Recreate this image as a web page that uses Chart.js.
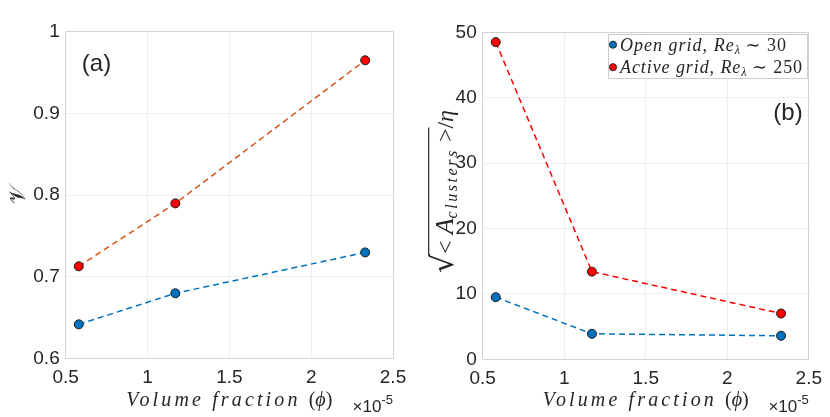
<!DOCTYPE html>
<html>
<head>
<meta charset="utf-8">
<script src="https://cdn.jsdelivr.net/npm/chart.js@4.4.1/dist/chart.umd.min.js"></script>
<style>
html, body { margin: 0; padding: 0; background: #fff; }
#wrap { display: flex; width: 830px; height: 417px; }
.panel { position: relative; width: 415px; height: 417px; }
</style>
</head>
<body>
<div id="wrap">
  <div class="panel"><canvas id="chartA"></canvas></div>
  <div class="panel"><canvas id="chartB"></canvas></div>
</div>
<script>
const phi = [0.58, 1.17, 2.33];
const nuOpen = [0.642, 0.680, 0.730];
const nuActive = [0.713, 0.790, 0.965];
const sizeOpen = [9.5, 3.9, 3.6];
const sizeActive = [48.5, 13.4, 7.0];

const phiTicks = [0.5, 1, 1.5, 2, 2.5];
const nuTicks = [0.6, 0.7, 0.8, 0.9, 1];
const sizeTicks = [0, 10, 20, 30, 40, 50];

const seriesNames = ['Open grid, Reλ ∼ 30', 'Active grid, Reλ ∼ 250'];

const BLUE = '#0072BD', ORANGE = '#D95319', RED = '#FF0000';
const EDGE = '#d2d2d2', GRID = '#efefef', INK = '#262626';
const SANS = "'Liberation Sans', Arial, sans-serif";
const SERIF = "'Liberation Serif', 'DejaVu Serif', serif";

Chart.defaults.font.family = SANS;
Chart.defaults.color = INK;

function points(ys) {
    return phi.map((x, i) => ({ x: x, y: ys[i] }));
}

function dataset(label, ys, line, fill) {
    return {
        label: label,
        data: points(ys),
        borderColor: line,
        borderWidth: 1.5,
        borderDash: [6, 4],
        pointRadius: 4.5,
        pointBackgroundColor: fill,
        pointBorderColor: '#1a1a1a',
        pointBorderWidth: 1,
        tension: 0,
        fill: false
    };
}

function scale(vals, fitSize, isX) {
    return {
        type: 'linear',
        min: vals[0],
        max: vals[vals.length - 1],
        afterBuildTicks: s => { s.ticks = vals.map(v => ({ value: v })); },
        afterFit: s => { if (isX) s.height = fitSize; else s.width = fitSize; },
        ticks: {
            padding: isX ? 8 : 6,
            color: INK,
            font: { size: 19 },
            maxRotation: 0,
            autoSkip: false,
            callback: v => String(+v.toFixed(2))
        },
        grid: {
            drawTicks: false,
            lineWidth: 1,
            color: c => (c.index === 0 || c.index === vals.length - 1) ? EDGE : GRID
        },
        border: { display: false }
    };
}

// draws a row of text pieces; stretch pieces share extra letter spacing to hit a width
function drawRich(ctx, parts, x, y, align, target) {
    let w = 0, n = 0;
    parts.forEach(p => {
        ctx.font = p.font;
        ctx.letterSpacing = '0px';
        p.w = ctx.measureText(p.t).width;
        w += p.w;
        if (p.stretch) n += [...p.t].length;
    });
    let ls = (target && n) ? (target - w) / n : 0;
    parts.forEach(p => { if (p.stretch) p.w += ls * [...p.t].length; });
    let total = parts.reduce((a, p) => a + p.w, 0);
    let cx = align === 'center' ? x - total / 2 : align === 'right' ? x - total : x;
    ctx.textAlign = 'left';
    ctx.textBaseline = 'alphabetic';
    parts.forEach(p => {
        ctx.font = p.font;
        ctx.letterSpacing = p.stretch ? ls + 'px' : '0px';
        ctx.fillText(p.t, cx, y + (p.dy || 0));
        p.x = cx;
        cx += p.w;
    });
    ctx.letterSpacing = '0px';
    return parts;
}

function drawCommon(chart, label, lx, ly) {
    const ctx = chart.ctx, a = chart.chartArea;
    ctx.save();
    ctx.fillStyle = INK;
    // x title
    drawRich(ctx, [
        { t: 'Volume fraction ', font: 'italic 20px ' + SERIF, stretch: true },
        { t: '(', font: '20px ' + SERIF },
        { t: 'ϕ', font: 'italic 20px ' + SERIF },
        { t: ')', font: '20px ' + SERIF }
    ], (a.left + a.right) / 2, 406, 'center', 206);
    // exponent
    drawRich(ctx, [
        { t: '×10', font: '17px ' + SANS },
        { t: '-5', font: '13px ' + SANS, dy: -8 }
    ], a.right, 412, 'right');
    // panel label
    ctx.font = '24px ' + SANS;
    ctx.textAlign = 'center';
    ctx.textBaseline = 'middle';
    ctx.fillText(label, lx, ly);
    ctx.restore();
}

const extrasA = {
    id: 'extrasA',
    afterDraw(chart) {
        const ctx = chart.ctx;
        drawCommon(chart, '(a)', 96.5, 64.5);
        ctx.save();
        ctx.fillStyle = INK;
        ctx.translate(19, 195);
        ctx.rotate(-Math.PI / 2);
        ctx.font = "22px 'DejaVu Sans', 'Noto Sans', serif";
        ctx.textAlign = 'center';
        ctx.textBaseline = 'middle';
        ctx.fillText('𝒱', 0, 0);
        ctx.restore();
    }
};

const extrasB = {
    id: 'extrasB',
    afterDraw(chart) {
        const ctx = chart.ctx;
        drawCommon(chart, '(b)', 373, 113.5);
        ctx.save();
        ctx.fillStyle = INK;
        ctx.strokeStyle = INK;
        // y title: sqrt(<A_clusters>)/eta
        ctx.translate(38, 191.5);
        ctx.rotate(-Math.PI / 2);
        const parts = drawRich(ctx, [
            { t: '√', font: "30px 'DejaVu Serif', serif" },
            { t: '< ', font: '24px ' + SERIF },
            { t: 'A', font: 'italic 26px ' + SERIF },
            { t: 'clusters', font: 'italic 16px ' + SERIF, dy: 4, stretch: true },
            { t: ' >', font: '24px ' + SERIF },
            { t: '/', font: '24px ' + SERIF },
            { t: 'η', font: 'italic 24px ' + SERIF }
        ], 0, 0, 'center', 163);
        ctx.font = "30px 'DejaVu Serif', serif";
        const top = ctx.measureText('√').actualBoundingBoxAscent;
        ctx.lineWidth = 1.2;
        ctx.beginPath();
        ctx.moveTo(parts[0].x + parts[0].w - 1.5, -top + 0.7);
        ctx.lineTo(parts[4].x + parts[4].w + 1, -top + 0.7);
        ctx.stroke();
        ctx.restore();

        // legend
        const lx = 193.5, ly = 34.5, lw = 199, lh = 44;
        ctx.save();
        ctx.fillStyle = '#fff';
        ctx.fillRect(lx, ly, lw, lh);
        ctx.strokeStyle = '#cdcdcd';
        ctx.lineWidth = 1;
        ctx.strokeRect(lx, ly, lw, lh);
        const rows = [
            { ds: chart.data.datasets[0], y: 50.5, w: 167 },
            { ds: chart.data.datasets[1], y: 73, w: 183 }
        ];
        rows.forEach(r => {
            ctx.beginPath();
            ctx.arc(198, r.y - 5.8, 3.6, 0, Math.PI * 2);
            ctx.fillStyle = r.ds.pointBackgroundColor;
            ctx.fill();
            ctx.strokeStyle = '#1a1a1a';
            ctx.lineWidth = 0.8;
            ctx.stroke();
            const [head, tail] = r.ds.label.split('λ');
            ctx.fillStyle = INK;
            drawRich(ctx, [
                { t: head, font: 'italic 18px ' + SERIF, stretch: true },
                { t: 'λ', font: 'italic 12px ' + SERIF, dy: 3 },
                { t: tail, font: '18px ' + SERIF, stretch: true }
            ], 205, r.y, 'left', r.w);
        });
        ctx.restore();
    }
};

function makeChart(id, sets, yVals, fit, plugin) {
    return new Chart(document.getElementById(id), {
        type: 'line',
        data: { datasets: sets },
        options: {
            responsive: true,
            maintainAspectRatio: false,
            animation: false,
            layout: { padding: { top: fit.top, right: fit.right, left: 0, bottom: 0 } },
            scales: {
                x: scale(phiTicks, fit.xh, true),
                y: scale(yVals, fit.yw, false)
            },
            plugins: { legend: { display: false }, tooltip: { enabled: false } }
        },
        plugins: [plugin]
    });
}

makeChart('chartA', [
    dataset(seriesNames[0], nuOpen, BLUE, BLUE),
    dataset(seriesNames[1], nuActive, ORANGE, RED)
], nuTicks, { top: 31.7, right: 22, xh: 58.3, yw: 65.7 }, extrasA);

makeChart('chartB', [
    dataset(seriesNames[0], sizeOpen, BLUE, BLUE),
    dataset(seriesNames[1], sizeActive, RED, RED)
], sizeTicks, { top: 32.3, right: 19.7, xh: 57.7, yw: 67.7 }, extrasB);
</script>
</body>
</html>
